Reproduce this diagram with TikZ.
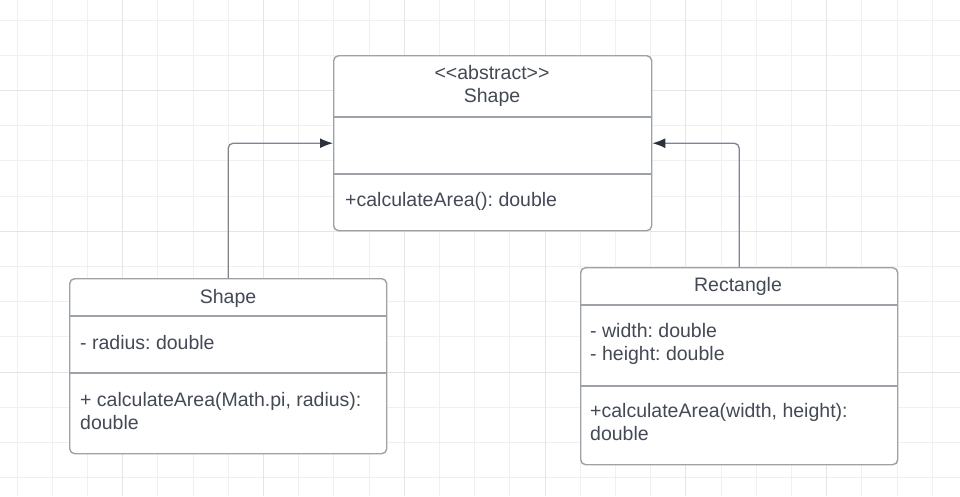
\documentclass[tikz,border=0pt]{standalone}
\usepackage{fontspec}
\setmainfont{Liberation Sans}
\usetikzlibrary{arrows.meta, positioning}
\definecolor{gridc}{HTML}{F0F0F0}
\definecolor{griddark}{HTML}{E5E5E5}
\definecolor{boxc}{HTML}{9DA1A8}
\definecolor{textc}{HTML}{434955}
\definecolor{linec}{HTML}{80858D}
\definecolor{tipc}{HTML}{2C323D}
\frenchspacing

\begin{document}
\begin{tikzpicture}[x=1pt, y=-1pt, font=\fontsize{19.5}{23}\selectfont,
		cls/.style = {draw=boxc, line width=1.4pt, rounded corners=5pt, fill=white, anchor=north west, inner sep=0pt},
		div/.style = {draw=boxc, line width=1.4pt},
		txt/.style = {text=textc, inner sep=0pt},
		inh/.style = {draw=linec, line width=1.3pt, rounded corners=5pt, -{Latex[length=13pt, width=10pt, color=tipc]}}]
		\useasboundingbox (0,0) rectangle (960,496);
		% background grid
		\foreach \k in {0,...,27} {
			\draw[gridc, line width=1pt] ({17+35.2*\k},0) -- ++(0,496);
		}
		\foreach \k in {0,...,13} {
			\draw[gridc, line width=1pt] (0,{20+35.2*\k}) -- ++(960,0);
		}
		\foreach \k in {3,7,...,27} {
			\draw[griddark, line width=1pt] ({17+35.2*\k},0) -- ++(0,496);
		}
		\foreach \k in {2,6,10} {
			\draw[griddark, line width=1pt] (0,{20+35.2*\k}) -- ++(960,0);
		}

		% classes
		\node[cls, minimum width=318pt, minimum height=175pt] (abs) at (333,55) {};
		\node[cls, minimum width=317pt, minimum height=175pt] (circ) at (69,278) {};
		\node[cls, minimum width=317pt, minimum height=197pt] (rect) at (580,267) {};

		\draw[div] ([yshift=-62pt]abs.north west) -- ([yshift=-62pt]abs.north east);
		\draw[div] ([yshift=-119pt]abs.north west) -- ([yshift=-119pt]abs.north east);
		\draw[div] ([yshift=-38pt]circ.north west) -- ([yshift=-38pt]circ.north east);
		\draw[div] ([yshift=-95pt]circ.north west) -- ([yshift=-95pt]circ.north east);
		\draw[div] ([yshift=-38pt]rect.north west) -- ([yshift=-38pt]rect.north east);
		\draw[div] ([yshift=-119pt]rect.north west) -- ([yshift=-119pt]rect.north east);

		% texts (base = last line)
		\node[txt, align=center, anchor=base] (absname) at (492,102.5) {<{}<abstract>{}>\\Shape};
		\node[txt, anchor=base west] (absop) at (345,206) {+calculateArea(): double};

		\node[txt, anchor=base] (circname) at (228,303) {Shape};
		\node[txt, anchor=base west] (circattr) at (80,349) {- radius: double};
		\node[txt, align=left, anchor=base west] (circop) at (80,429.5) {+ calculateArea(Math.pi, radius):\\double};

		\node[txt, anchor=base] (rectname) at (738,291) {Rectangle};
		\node[txt, align=left, anchor=base west] (rectattr) at (590,360) {- width: double\\- height: double};
		\node[txt, align=left, anchor=base west] (rectop) at (590,440) {+calculateArea(width, height):\\double};

		% inheritance
		\draw[inh] (circ.north) |- (abs.west);
		\draw[inh] (rect.north) |- (abs.east);
	\end{tikzpicture}
\end{document}
